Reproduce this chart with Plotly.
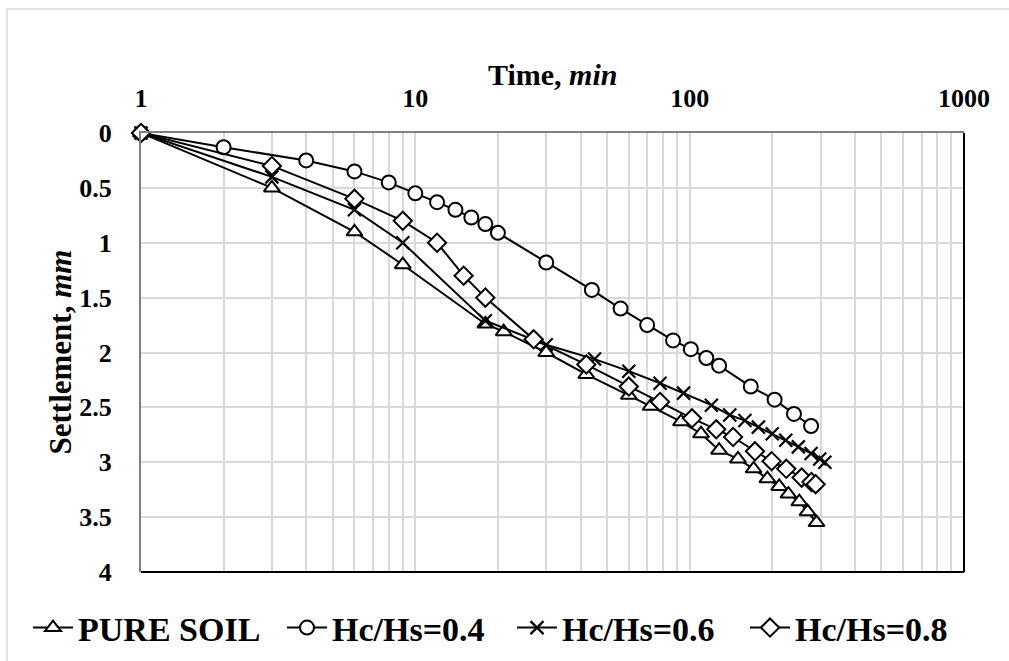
import plotly.graph_objects as go

# ---- data ----
pure_t = [1, 3, 6, 9, 18, 21, 30, 42, 60, 72, 93, 110, 128, 150, 171, 192, 212, 229, 251, 269, 290]
pure_s = [0, 0.5, 0.9, 1.2, 1.74, 1.81, 2.0, 2.2, 2.39, 2.49, 2.63, 2.74, 2.89, 2.97, 3.06, 3.15, 3.22, 3.29, 3.36, 3.45, 3.55]

c04_t = [1, 2, 4, 6, 8, 10, 12, 14, 16, 18, 20, 30, 44, 56, 70, 87, 101, 115, 128, 167, 204, 240, 277]
c04_s = [0, 0.13, 0.25, 0.35, 0.45, 0.55, 0.63, 0.70, 0.77, 0.83, 0.91, 1.18, 1.43, 1.60, 1.75, 1.89, 1.97, 2.05, 2.12, 2.31, 2.43, 2.56, 2.67]

c06_t = [1, 3, 6, 9, 18, 30, 45, 60, 78, 95, 120, 140, 159, 178, 200, 224, 249, 277, 298, 311]
c06_s = [0, 0.40, 0.70, 1.0, 1.71, 1.93, 2.06, 2.17, 2.28, 2.37, 2.48, 2.57, 2.62, 2.68, 2.74, 2.80, 2.86, 2.92, 2.97, 3.0]

c08_t = [1, 3, 6, 9, 12, 15, 18, 27, 42, 60, 78, 102, 125, 144, 173, 199, 225, 256, 278, 288]
c08_s = [0, 0.30, 0.60, 0.80, 1.0, 1.3, 1.5, 1.88, 2.11, 2.31, 2.45, 2.60, 2.70, 2.77, 2.90, 2.99, 3.06, 3.14, 3.18, 3.20]

series_names = ["PURE SOIL", "Hc/Hs=0.4", "Hc/Hs=0.6", "Hc/Hs=0.8"]
x_tickvals = [1, 10, 100, 1000]
x_ticktext = ["1", "10", "100", "1000"]
x_minor = [2, 3, 4, 5, 6, 7, 8, 9, 20, 30, 40, 50, 60, 70, 80, 90, 200, 300, 400, 500, 600, 700, 800, 900]
y_tickvals = [0, 0.5, 1, 1.5, 2, 2.5, 3, 3.5, 4]
y_ticktext = ["0", "0.5", "1", "1.5", "2", "2.5", "3", "3.5", "4"]

FONT = "Liberation Serif"
W, H = 1009, 661

fig = go.Figure()

styles = [
    dict(symbol="triangle-up", size=14),
    dict(symbol="circle", size=14),
    dict(symbol="x-thin", size=13),
    dict(symbol="diamond", size=14),
]
data = [(pure_t, pure_s), (c04_t, c04_s), (c06_t, c06_s), (c08_t, c08_s)]
legend_ids = ["legend", "legend2", "legend3", "legend4"]
legend_left_px = [28, 282, 512, 745]

for (t, s), name, st, lid in zip(data, series_names, styles, legend_ids):
    if st["symbol"] == "x-thin":
        marker = dict(symbol="x-thin", size=st["size"], color="black",
                      line=dict(color="black", width=2.2))
    else:
        marker = dict(symbol=st["symbol"], size=st["size"], color="white",
                      line=dict(color="black", width=2))
    fig.add_trace(go.Scatter(
        x=t, y=s, mode="lines+markers",
        name="<b>" + name + "</b>",
        line=dict(color="black", width=2),
        marker=marker, cliponaxis=False, legend=lid,
    ))

legend_common = dict(
    orientation="h", xanchor="left", xref="container",
    y=1 - 628 / H, yref="container", yanchor="middle",
    font=dict(family=FONT, size=34, color="black"),
    itemwidth=40, bgcolor="rgba(0,0,0,0)",
)
layout_legends = {}
for lid, lx in zip(legend_ids, legend_left_px):
    layout_legends[lid] = dict(legend_common, x=lx / W)

fig.update_layout(
    width=W, height=H,
    margin=dict(l=141, r=45, t=133, b=89, autoexpand=False),
    paper_bgcolor="white", plot_bgcolor="white",
    font=dict(family=FONT, color="black"),
    showlegend=True,
    **layout_legends,
)

fig.update_xaxes(
    type="log", range=[0, 3], side="top",
    tickvals=x_tickvals, ticktext=x_ticktext,
    tickfont=dict(family=FONT, size=26, color="black", weight="bold"),
    ticks="", ticklabelstandoff=14,
    showgrid=True, gridcolor="#d9d9d9", gridwidth=1.5,
    minor=dict(tickvals=x_minor, showgrid=True, gridcolor="#d9d9d9", gridwidth=1.5),
    showline=True, linecolor="#7f7f7f", linewidth=2,
    zeroline=False,
)
fig.update_yaxes(
    range=[4, 0],
    tickvals=y_tickvals, ticktext=y_ticktext,
    tickfont=dict(family=FONT, size=26, color="black", weight="bold"),
    ticks="", ticklabelstandoff=22,
    showgrid=True, gridcolor="#d9d9d9", gridwidth=1.5,
    showline=True, linecolor="#7f7f7f", linewidth=2,
    zeroline=False,
)

# plot-area border (right and bottom in black)
fig.add_shape(type="line", xref="paper", yref="paper", x0=1, x1=1, y0=0, y1=1,
              line=dict(color="black", width=2), layer="above")
fig.add_shape(type="line", xref="paper", yref="paper", x0=0, x1=1, y0=0, y1=0,
              line=dict(color="black", width=2), layer="above")
# outer chart-area border (light grey)
fig.add_shape(type="rect", xref="paper", yref="paper",
              x0=(7 - 141) / 823, x1=(1030 - 141) / 823,
              y0=(572 - 680) / 439, y1=(572 - 9) / 439,
              line=dict(color="#d9d9d9", width=1.5), layer="below")

# axis titles
fig.add_annotation(
    xref="paper", yref="paper", x=0.5, y=(572 - 75) / 439,
    text="<b>Time, <i>min</i></b>", showarrow=False,
    font=dict(family=FONT, size=30, color="black"),
    xanchor="center", yanchor="middle",
)
fig.add_annotation(
    xref="paper", yref="paper", x=(60 - 141) / 823, y=0.5,
    text="<b>Settlement, <i>mm</i></b>", showarrow=False, textangle=-90,
    font=dict(family=FONT, size=31, color="black"),
    xanchor="center", yanchor="middle",
)

fig.write_html("out.html")
